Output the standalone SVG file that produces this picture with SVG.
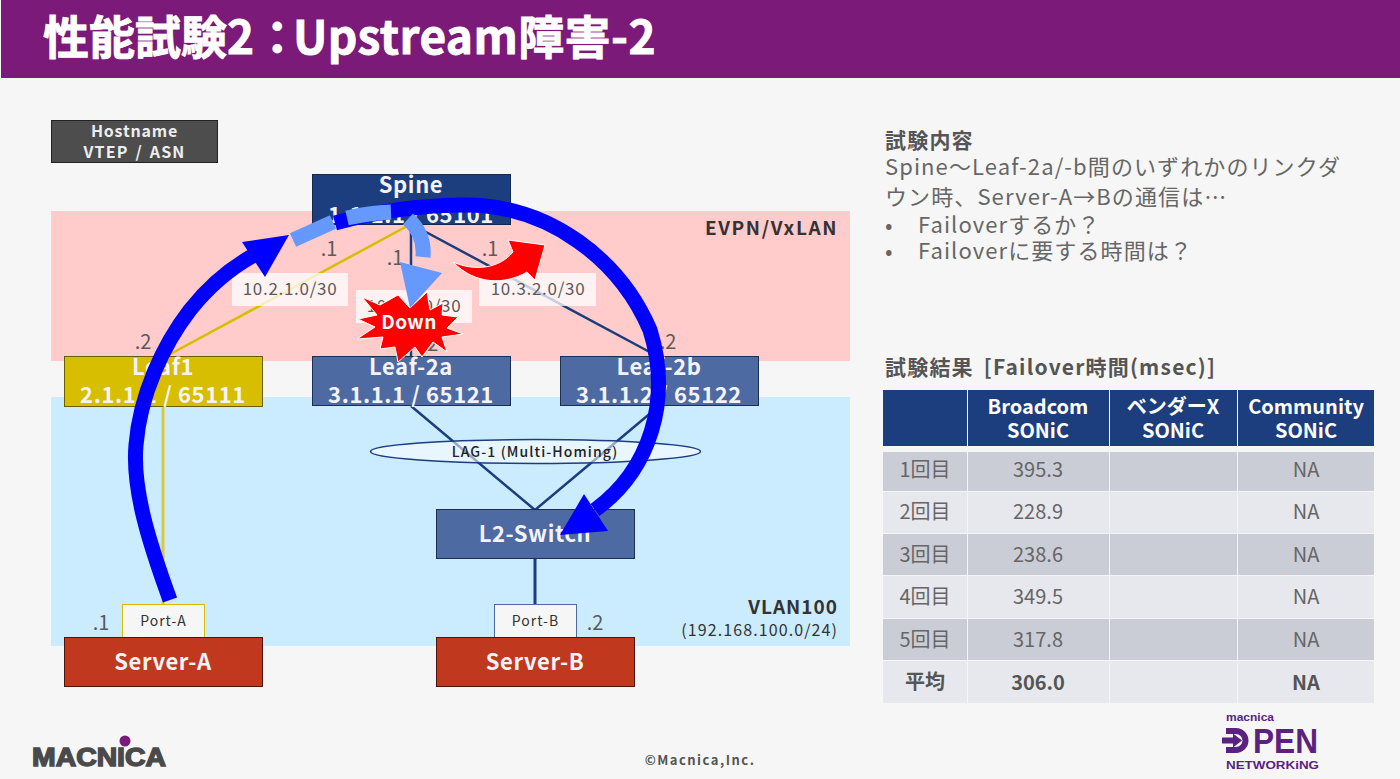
<svg xmlns="http://www.w3.org/2000/svg" width="1400" height="779" viewBox="0 0 1400 779">
<style>
text{font-family:"Noto Sans CJK JP","Noto Sans",sans-serif;}
text.logo{font-family:"Liberation Sans",Arial,sans-serif;font-weight:700;text-anchor:middle;}
.w{fill:#F4F4F8;font-weight:700;font-size:22px;text-anchor:middle;letter-spacing:.6px;}
.ip{fill:#5a5a5a;font-size:17px;text-anchor:middle;letter-spacing:.7px;}
.dot{fill:#5a5a5a;font-size:20px;text-anchor:middle;}
.body{fill:#666;font-size:22px;letter-spacing:1.1px;}
.bh{fill:#555;font-size:21px;font-weight:700;letter-spacing:1.200px;}
.th{fill:#fff;font-size:20px;font-weight:700;text-anchor:middle;}
.td{fill:#666;font-size:20px;text-anchor:middle;}
.tb{fill:#555;font-size:20px;font-weight:700;text-anchor:middle;}
.r1{fill:#CBCDD6;}.r2{fill:#E7E8ED;}.rh{fill:#1C3D7E;}
.lb{fill:#fff;fill-opacity:.75;}
.main{fill:none;stroke:#0000FF;stroke-width:15;}
.lite{fill:none;stroke:#6699FF;stroke-width:15;}
</style>
<rect width="1400" height="779" fill="#F6F6F6"/>
<g id="title"><rect x="1" width="1399" height="78" fill="#7B1A78"/>
<text x="43" y="54" fill="#fff" stroke="#fff" stroke-width=".8" font-size="46" font-weight="700">性能試験2：</text>
<text x="293" y="54" fill="#fff" stroke="#fff" stroke-width=".8" font-size="46" font-weight="700" letter-spacing=".4">Upstream障害-2</text></g>
<g id="zones">
<rect x="51" y="211" width="799" height="150" fill="#FFCBCB"/>
<rect x="51" y="397" width="799" height="249" fill="#CBECFF"/>
<text x="838" y="235" fill="#333" font-size="19" font-weight="700" letter-spacing="1.600" text-anchor="end">EVPN/VxLAN</text>
<text x="838" y="614" fill="#333" font-size="19" font-weight="700" letter-spacing="1" text-anchor="end">VLAN100</text>
<text x="838" y="636" fill="#333" font-size="16" letter-spacing="1.100" text-anchor="end">(192.168.100.0/24)</text>
</g>
<g id="connectors" fill="none">
<path d="M411 225V357" stroke="#1C3D7E" stroke-width="2.500"/>
<path d="M411 224L163 358" stroke="#D8BE00" stroke-width="2.500"/>
<path d="M411 224L659 357" stroke="#1C3D7E" stroke-width="2.500"/>
<path d="M163 406V604" stroke="#DCC83C" stroke-width="3"/>
<path d="M411 406L535 510L659 406" stroke="#1C3D7E" stroke-width="2.500"/>
<path d="M535 559V604" stroke="#1C3D7E" stroke-width="3"/>
</g>
<g id="labels">
<rect class="lb" x="232" y="273" width="116" height="33"/><text class="ip" x="290" y="295">10.2.1.0/30</text>
<rect class="lb" x="356" y="290" width="116" height="33"/><text class="ip" x="414" y="312">10.3.1.0/30</text>
<rect class="lb" x="479" y="273" width="117" height="33"/><text class="ip" x="538" y="295">10.3.2.0/30</text>
<text class="dot" x="329" y="256">.1</text><text class="dot" x="395" y="265">.1</text><text class="dot" x="490" y="256">.1</text>
<text class="dot" x="143" y="349">.2</text><text class="dot" x="430" y="351">.2</text><text class="dot" x="668" y="349">.2</text>
<text class="dot" x="101" y="630">.1</text><text class="dot" x="595" y="630">.2</text>
</g>
<g id="legend"><rect x="51.500" y="120.500" width="166" height="42" fill="#4D4D4D" stroke="#222"/>
<text x="134.500" y="137" fill="#eee" font-size="16" font-weight="700" letter-spacing=".8" text-anchor="middle">Hostname</text>
<text x="134.500" y="158" fill="#eee" font-size="16" font-weight="700" letter-spacing="1.200" word-spacing="2" text-anchor="middle">VTEP / ASN</text></g>
<g id="spine"><rect x="312.500" y="174.500" width="198" height="50" fill="#1C3D7E" stroke="#12284f"/>
<text class="w" x="411" y="193">Spine</text><text class="w" x="411" y="223">1.1.1.1 / 65101</text></g>
<g id="leaf1"><rect x="64.500" y="356.500" width="198" height="50" fill="#D8BE00" stroke="#6b5e00"/>
<text class="w" x="163" y="375">Leaf1</text><text class="w" x="163" y="403">2.1.1.1 / 65111</text></g>
<g id="leaf2a"><rect x="312.500" y="356.500" width="198" height="49" fill="#4E6AA3" stroke="#1b2f55"/>
<text class="w" x="411" y="375">Leaf-2a</text><text class="w" x="411" y="403">3.1.1.1 / 65121</text></g>
<g id="leaf2b"><rect x="560.500" y="356.500" width="198" height="49" fill="#4E6AA3" stroke="#1b2f55"/>
<text class="w" x="659" y="375">Leaf-2b</text><text class="w" x="659" y="403">3.1.1.2 / 65122</text></g>
<g id="lag"><ellipse cx="535.500" cy="451.500" rx="165" ry="12" fill="#fff" fill-opacity=".55" stroke="#1C3D7E" stroke-width="1.500"/>
<text x="535" y="457" fill="#222" font-size="14" font-weight="500" letter-spacing="1.100" text-anchor="middle">LAG-1 (Multi-Homing)</text></g>
<g id="l2switch"><rect x="436.500" y="509.500" width="198" height="49" fill="#4E6AA3" stroke="#1b2f55"/>
<text class="w" x="535" y="542">L2-Switch</text></g>
<g id="port-a"><rect x="122.500" y="604.500" width="82" height="33" fill="#F6F6F6" stroke="#D8BE00"/>
<text x="163.500" y="626" fill="#333" font-size="14" letter-spacing="1" text-anchor="middle">Port-A</text></g>
<g id="port-b"><rect x="494.500" y="604.500" width="82" height="33" fill="#F6F6F6" stroke="#4E6AA3"/>
<text x="535.500" y="626" fill="#333" font-size="14" letter-spacing="1" text-anchor="middle">Port-B</text></g>
<g id="server-a"><rect x="64.500" y="637.500" width="198" height="49" fill="#C0391F" stroke="#4d1508"/>
<text class="w" x="163" y="670">Server-A</text></g>
<g id="server-b"><rect x="436.500" y="637.500" width="198" height="49" fill="#C0391F" stroke="#4d1508"/>
<text class="w" x="535" y="670">Server-B</text></g>
<g id="flow">
<path class="main" d="M170 600C150 545 132 490 136 445C140 395 163 345 190 310C210 285 233 266 258 253"/>
<path d="M289 235L242 242L265 277Z" fill="#00F"/>
<path class="main" d="M335 223C375 212 420 205 465 205C550 205 620 260 650 330C672 400 650 470 595 510"/>
<path d="M560 535L584 494L608 531Z" fill="#00F"/>
<path class="lite" d="M293 240L333 222"/>
<path class="lite" d="M347 218Q369 213 391 212"/>
<path class="lite" d="M408 219Q425 234 423 257"/>
<path d="M453 262C475 272 500 268 513 252L508 240L545 245L535 280L527 272C505 285 475 285 453 262Z" fill="#F00" stroke="#fff" stroke-width="1"/>
<path d="M362 297L380 305L398 295L410 308L427 292L430 310L443 303L442 315L458 317L447 328L463 334L442 337L447 352L433 342L422 357L415 347L398 362L395 347L380 349L383 337L357 339L375 327L358 319L377 315Z" fill="#F00" stroke="#fff" stroke-width="1"/>
<path d="M400 262L442 273L410 308Z" fill="#6699FF"/>
<text x="409" y="329" fill="#fff" font-size="19" font-weight="700" letter-spacing=".4" text-anchor="middle">Down</text>
</g>
<g id="desc">
<text class="bh" x="885" y="148">試験内容</text>
<text class="body" x="885" y="175">Spine～Leaf-2a/-b間のいずれかのリンクダ</text>
<text class="body" x="885" y="205">ウン時、Server-A→Bの通信は…</text>
<text class="body" x="885" y="233">•</text><text class="body" x="918" y="233">Failoverするか？</text>
<text class="body" x="885" y="259">•</text><text class="body" x="918" y="259">Failoverに要する時間は？</text>
<text class="bh" x="885" y="375" word-spacing="4">試験結果 [Failover時間(msec)]</text>
</g>
<g id="table">
<rect class="rh" x="883" y="390" width="84" height="56"/><rect class="rh" x="968" y="390" width="141" height="56"/><rect class="rh" x="1110" y="390" width="127" height="56"/><rect class="rh" x="1238" y="390" width="136" height="56"/>
<text class="th" x="1038" y="414">Broadcom</text><text class="th" x="1038" y="438">SONiC</text>
<text class="th" x="1173" y="414">ベンダーX</text><text class="th" x="1173" y="438">SONiC</text>
<text class="th" x="1306" y="414">Community</text><text class="th" x="1306" y="438">SONiC</text>
<g class="r1"><rect x="883" y="452" width="84" height="39"/><rect x="968" y="452" width="141" height="39"/><rect x="1110" y="452" width="127" height="39"/><rect x="1238" y="452" width="136" height="39"/></g>
<g class="r2"><rect x="883" y="492" width="84" height="41"/><rect x="968" y="492" width="141" height="41"/><rect x="1110" y="492" width="127" height="41"/><rect x="1238" y="492" width="136" height="41"/></g>
<g class="r1"><rect x="883" y="534" width="84" height="41"/><rect x="968" y="534" width="141" height="41"/><rect x="1110" y="534" width="127" height="41"/><rect x="1238" y="534" width="136" height="41"/></g>
<g class="r2"><rect x="883" y="576" width="84" height="42"/><rect x="968" y="576" width="141" height="42"/><rect x="1110" y="576" width="127" height="42"/><rect x="1238" y="576" width="136" height="42"/></g>
<g class="r1"><rect x="883" y="619" width="84" height="41"/><rect x="968" y="619" width="141" height="41"/><rect x="1110" y="619" width="127" height="41"/><rect x="1238" y="619" width="136" height="41"/></g>
<g class="r2"><rect x="883" y="661" width="84" height="42"/><rect x="968" y="661" width="141" height="42"/><rect x="1110" y="661" width="127" height="42"/><rect x="1238" y="661" width="136" height="42"/></g>
<text class="td" x="925" y="477">1回目</text><text class="td" x="1038" y="477">395.3</text><text class="td" x="1306" y="477">NA</text>
<text class="td" x="925" y="519">2回目</text><text class="td" x="1038" y="519">228.9</text><text class="td" x="1306" y="519">NA</text>
<text class="td" x="925" y="562">3回目</text><text class="td" x="1038" y="562">238.6</text><text class="td" x="1306" y="562">NA</text>
<text class="td" x="925" y="604">4回目</text><text class="td" x="1038" y="604">349.5</text><text class="td" x="1306" y="604">NA</text>
<text class="td" x="925" y="647">5回目</text><text class="td" x="1038" y="647">317.8</text><text class="td" x="1306" y="647">NA</text>
<text class="tb" x="925" y="689">平均</text><text class="tb" x="1038" y="690">306.0</text><text class="tb" x="1306" y="690">NA</text>
</g>
<g id="footer">
<text x="700" y="765" fill="#555" font-size="13" font-weight="700" letter-spacing="1.500" text-anchor="middle">©Macnica,Inc.</text>
<circle cx="125" cy="741" r="5.500" fill="#7B1A78"/>
<text class="logo" x="99" y="766" fill="#4a4a4a" font-size="25" stroke="#4a4a4a" stroke-width="1.400" textLength="134" lengthAdjust="spacingAndGlyphs">MACNICA</text>
<text class="logo" x="1250" y="721" fill="#5B2180" font-size="10.500" textLength="48" lengthAdjust="spacingAndGlyphs">macnica</text>
<path d="M1226 731H1236A9.500 9.500 0 0 1 1236 750H1226" fill="none" stroke="#5B2180" stroke-width="6"/>
<path d="M1222 737.500H1233V733.500L1242 740.500L1233 747.500V743.500H1222Z" fill="#5B2180"/>
<text class="logo" x="1285.500" y="753" fill="#5B2180" font-size="35" textLength="65" lengthAdjust="spacingAndGlyphs">PEN</text>
<text class="logo" x="1272.500" y="769" fill="#5B2180" font-size="11.500" textLength="93" lengthAdjust="spacingAndGlyphs">NETWORKiNG</text>
</g>
</svg>
